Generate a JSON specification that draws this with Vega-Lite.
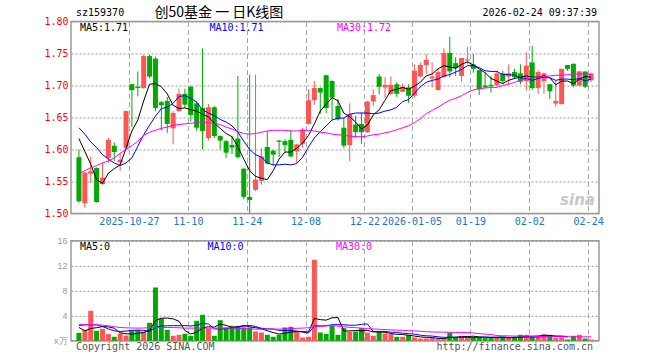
{
  "$schema": "https://vega.github.io/schema/vega-lite/v6.json",
  "background": "#ffffff",
  "padding": {"left": 0, "top": 5.5, "right": 0, "bottom": 0},
  "bounds": "flush",
  "spacing": 27.3,
  "config": {
    "view": {"stroke": "#999999", "strokeWidth": 1.5},
    "axis": {"labelFont": "DejaVu Sans Mono", "labelFontSize": 10, "ticks": false, "domain": false, "title": null, "gridColor": "#aaaaaa", "gridWidth": 1, "labelOverlap": false, "tickCount": 20},
    "line": {"strokeWidth": 1}
  },
  "data": {"values": [
    {"i":0,"o":1.588,"h":1.600,"l":1.517,"c":1.519,"v":1.28,"m5":1.617,"m10":1.634,"m30":1.562,"vm5":2.13,"vm10":2.45,"vm30":2.65},
    {"i":1,"o":1.516,"h":1.565,"l":1.509,"c":1.564,"v":1.76,"m5":1.597,"m10":1.624,"m30":1.567,"vm5":1.6,"vm10":2.55,"vm30":2.62},
    {"i":2,"o":1.562,"h":1.589,"l":1.548,"c":1.566,"v":4.8,"m5":1.577,"m10":1.612,"m30":1.571,"vm5":1.97,"vm10":2.56,"vm30":2.6},
    {"i":3,"o":1.571,"h":1.572,"l":1.517,"c":1.518,"v":1.6,"m5":1.553,"m10":1.603,"m30":1.575,"vm5":2.1,"vm10":2.56,"vm30":2.56},
    {"i":4,"o":1.546,"h":1.579,"l":1.545,"c":1.556,"v":1.92,"m5":1.547,"m10":1.592,"m30":1.579,"vm5":2.27,"vm10":2.3,"vm30":2.5},
    {"i":5,"o":1.587,"h":1.618,"l":1.579,"c":1.615,"v":1.07,"m5":1.563,"m10":1.585,"m30":1.582,"vm5":2.23,"vm10":1.9,"vm30":2.4},
    {"i":6,"o":1.606,"h":1.611,"l":1.582,"c":1.596,"v":0.64,"m5":1.570,"m10":1.579,"m30":1.587,"vm5":2.01,"vm10":1.6,"vm30":2.25},
    {"i":7,"o":1.580,"h":1.595,"l":1.567,"c":1.584,"v":1.17,"m5":1.576,"m10":1.575,"m30":1.594,"vm5":1.28,"vm10":1.5,"vm30":2.13},
    {"i":8,"o":1.603,"h":1.661,"l":1.601,"c":1.660,"v":0.85,"m5":1.602,"m10":1.579,"m30":1.600,"vm5":1.13,"vm10":1.55,"vm30":2.08},
    {"i":9,"o":1.702,"h":1.703,"l":1.635,"c":1.693,"v":1.6,"m5":1.629,"m10":1.587,"m30":1.606,"vm5":1.07,"vm10":1.67,"vm30":2.05},
    {"i":10,"o":1.698,"h":1.722,"l":1.683,"c":1.696,"v":1.7,"m5":1.646,"m10":1.605,"m30":1.613,"vm5":1.19,"vm10":1.71,"vm30":2.03},
    {"i":11,"o":1.696,"h":1.748,"l":1.695,"c":1.746,"v":1.44,"m5":1.676,"m10":1.623,"m30":1.622,"vm5":1.35,"vm10":1.68,"vm30":2.05},
    {"i":12,"o":1.746,"h":1.748,"l":1.711,"c":1.714,"v":2.88,"m5":1.702,"m10":1.638,"m30":1.627,"vm5":1.69,"vm10":1.49,"vm30":2.1},
    {"i":13,"o":1.742,"h":1.745,"l":1.660,"c":1.665,"v":8.53,"m5":1.703,"m10":1.652,"m30":1.630,"vm5":3.23,"vm10":2.18,"vm30":2.13},
    {"i":14,"o":1.674,"h":1.676,"l":1.630,"c":1.669,"v":3.57,"m5":1.698,"m10":1.664,"m30":1.633,"vm5":3.62,"vm10":2.35,"vm30":2.13},
    {"i":15,"o":1.676,"h":1.682,"l":1.626,"c":1.640,"v":1.76,"m5":1.687,"m10":1.666,"m30":1.635,"vm5":3.64,"vm10":2.41,"vm30":2.13},
    {"i":16,"o":1.633,"h":1.660,"l":1.608,"c":1.657,"v":0.8,"m5":1.669,"m10":1.672,"m30":1.638,"vm5":3.51,"vm10":2.43,"vm30":2.13},
    {"i":17,"o":1.660,"h":1.695,"l":1.659,"c":1.687,"v":0.96,"m5":1.664,"m10":1.683,"m30":1.639,"vm5":3.12,"vm10":2.41,"vm30":2.08},
    {"i":18,"o":1.687,"h":1.695,"l":1.665,"c":1.670,"v":1.12,"m5":1.665,"m10":1.684,"m30":1.640,"vm5":1.64,"vm10":2.44,"vm30":2.03},
    {"i":19,"o":1.698,"h":1.700,"l":1.644,"c":1.654,"v":0.8,"m5":1.662,"m10":1.680,"m30":1.641,"vm5":1.09,"vm10":2.36,"vm30":2.03},
    {"i":20,"o":1.672,"h":1.676,"l":1.629,"c":1.634,"v":3.2,"m5":1.660,"m10":1.674,"m30":1.642,"vm5":1.38,"vm10":2.51,"vm30":2.03},
    {"i":21,"o":1.665,"h":1.758,"l":1.600,"c":1.629,"v":4.16,"m5":1.655,"m10":1.662,"m30":1.643,"vm5":2.05,"vm10":2.78,"vm30":2.03},
    {"i":22,"o":1.618,"h":1.671,"l":1.614,"c":1.666,"v":1.97,"m5":1.651,"m10":1.657,"m30":1.642,"vm5":2.25,"vm10":2.69,"vm30":2.03},
    {"i":23,"o":1.666,"h":1.668,"l":1.618,"c":1.621,"v":0.8,"m5":1.641,"m10":1.653,"m30":1.641,"vm5":2.19,"vm10":1.91,"vm30":2.03},
    {"i":24,"o":1.621,"h":1.622,"l":1.600,"c":1.614,"v":3.3,"m5":1.633,"m10":1.647,"m30":1.639,"vm5":2.69,"vm10":1.89,"vm30":2.03},
    {"i":25,"o":1.613,"h":1.615,"l":1.587,"c":1.595,"v":2.13,"m5":1.625,"m10":1.643,"m30":1.635,"vm5":2.47,"vm10":1.92,"vm30":2.03},
    {"i":26,"o":1.607,"h":1.621,"l":1.593,"c":1.603,"v":2.4,"m5":1.620,"m10":1.637,"m30":1.632,"vm5":2.12,"vm10":2.08,"vm30":2.03},
    {"i":27,"o":1.617,"h":1.715,"l":1.586,"c":1.588,"v":2.4,"m5":1.604,"m10":1.627,"m30":1.628,"vm5":2.21,"vm10":2.23,"vm30":2.0},
    {"i":28,"o":1.570,"h":1.571,"l":1.522,"c":1.526,"v":2.13,"m5":1.585,"m10":1.613,"m30":1.625,"vm5":2.47,"vm10":2.33,"vm30":1.95},
    {"i":29,"o":1.526,"h":1.717,"l":1.501,"c":1.521,"v":2.13,"m5":1.567,"m10":1.600,"m30":1.624,"vm5":2.24,"vm10":2.46,"vm30":1.9},
    {"i":30,"o":1.537,"h":1.717,"l":1.535,"c":1.553,"v":1.49,"m5":1.558,"m10":1.592,"m30":1.625,"vm5":2.11,"vm10":2.29,"vm30":1.87},
    {"i":31,"o":1.551,"h":1.602,"l":1.545,"c":1.589,"v":1.33,"m5":1.555,"m10":1.588,"m30":1.627,"vm5":1.9,"vm10":2.01,"vm30":1.87},
    {"i":32,"o":1.604,"h":1.629,"l":1.577,"c":1.578,"v":0.96,"m5":1.553,"m10":1.579,"m30":1.629,"vm5":1.61,"vm10":1.91,"vm30":1.87},
    {"i":33,"o":1.598,"h":1.600,"l":1.575,"c":1.592,"v":0.64,"m5":1.567,"m10":1.576,"m30":1.630,"vm5":1.31,"vm10":1.89,"vm30":1.87},
    {"i":34,"o":1.614,"h":1.615,"l":1.588,"c":1.612,"v":0.96,"m5":1.585,"m10":1.576,"m30":1.630,"vm5":1.08,"vm10":1.66,"vm30":1.87},
    {"i":35,"o":1.613,"h":1.616,"l":1.595,"c":1.607,"v":2.13,"m5":1.596,"m10":1.577,"m30":1.630,"vm5":1.2,"vm10":1.66,"vm30":1.9},
    {"i":36,"o":1.615,"h":1.630,"l":1.589,"c":1.589,"v":2.24,"m5":1.596,"m10":1.576,"m30":1.629,"vm5":1.39,"vm10":1.64,"vm30":1.95},
    {"i":37,"o":1.597,"h":1.609,"l":1.579,"c":1.608,"v":1.49,"m5":1.602,"m10":1.578,"m30":1.629,"vm5":1.49,"vm10":1.55,"vm30":2.0},
    {"i":38,"o":1.609,"h":1.634,"l":1.603,"c":1.631,"v":0.53,"m5":1.610,"m10":1.588,"m30":1.630,"vm5":1.47,"vm10":1.39,"vm30":2.03},
    {"i":39,"o":1.640,"h":1.694,"l":1.639,"c":1.677,"v":0.64,"m5":1.622,"m10":1.604,"m30":1.630,"vm5":1.41,"vm10":1.24,"vm30":2.1},
    {"i":40,"o":1.677,"h":1.707,"l":1.670,"c":1.696,"v":12.96,"m5":1.640,"m10":1.618,"m30":1.629,"vm5":3.57,"vm10":2.39,"vm30":2.2},
    {"i":41,"o":1.696,"h":1.697,"l":1.656,"c":1.689,"v":1.33,"m5":1.660,"m10":1.628,"m30":1.627,"vm5":3.39,"vm10":2.39,"vm30":2.3},
    {"i":42,"o":1.716,"h":1.717,"l":1.657,"c":1.665,"v":1.07,"m5":1.671,"m10":1.637,"m30":1.626,"vm5":3.31,"vm10":2.4,"vm30":2.4},
    {"i":43,"o":1.707,"h":1.708,"l":1.645,"c":1.681,"v":2.4,"m5":1.681,"m10":1.646,"m30":1.624,"vm5":3.68,"vm10":2.58,"vm30":2.4},
    {"i":44,"o":1.668,"h":1.679,"l":1.645,"c":1.647,"v":0.96,"m5":1.676,"m10":1.649,"m30":1.623,"vm5":3.74,"vm10":2.58,"vm30":2.35},
    {"i":45,"o":1.634,"h":1.649,"l":1.602,"c":1.606,"v":2.03,"m5":1.657,"m10":1.649,"m30":1.622,"vm5":1.56,"vm10":2.57,"vm30":2.25},
    {"i":46,"o":1.607,"h":1.672,"l":1.582,"c":1.655,"v":1.44,"m5":1.651,"m10":1.655,"m30":1.621,"vm5":1.58,"vm10":2.49,"vm30":2.15},
    {"i":47,"o":1.639,"h":1.653,"l":1.619,"c":1.627,"v":1.49,"m5":1.643,"m10":1.657,"m30":1.620,"vm5":1.66,"vm10":2.49,"vm30":2.1},
    {"i":48,"o":1.640,"h":1.658,"l":1.609,"c":1.627,"v":2.03,"m5":1.632,"m10":1.657,"m30":1.620,"vm5":1.59,"vm10":2.64,"vm30":2.03},
    {"i":49,"o":1.627,"h":1.676,"l":1.626,"c":1.675,"v":1.33,"m5":1.638,"m10":1.657,"m30":1.621,"vm5":1.66,"vm10":2.7,"vm30":1.95},
    {"i":50,"o":1.675,"h":1.694,"l":1.668,"c":1.685,"v":0.8,"m5":1.654,"m10":1.656,"m30":1.623,"vm5":1.42,"vm10":1.49,"vm30":1.9},
    {"i":51,"o":1.714,"h":1.718,"l":1.686,"c":1.698,"v":1.49,"m5":1.662,"m10":1.657,"m30":1.624,"vm5":1.43,"vm10":1.5,"vm30":1.85},
    {"i":52,"o":1.697,"h":1.713,"l":1.681,"c":1.701,"v":1.17,"m5":1.677,"m10":1.660,"m30":1.626,"vm5":1.36,"vm10":1.51,"vm30":1.8},
    {"i":53,"o":1.687,"h":1.714,"l":1.685,"c":1.701,"v":1.07,"m5":1.692,"m10":1.662,"m30":1.628,"vm5":1.17,"vm10":1.38,"vm30":1.75},
    {"i":54,"o":1.702,"h":1.705,"l":1.682,"c":1.687,"v":0.64,"m5":1.694,"m10":1.666,"m30":1.631,"vm5":1.03,"vm10":1.35,"vm30":1.7},
    {"i":55,"o":1.690,"h":1.703,"l":1.690,"c":1.698,"v":0.64,"m5":1.697,"m10":1.675,"m30":1.634,"vm5":1.0,"vm10":1.21,"vm30":1.68},
    {"i":56,"o":1.697,"h":1.702,"l":1.673,"c":1.684,"v":0.91,"m5":1.694,"m10":1.678,"m30":1.637,"vm5":0.89,"vm10":1.16,"vm30":1.62},
    {"i":57,"o":1.684,"h":1.733,"l":1.681,"c":1.723,"v":0.53,"m5":1.699,"m10":1.688,"m30":1.642,"vm5":0.76,"vm10":1.06,"vm30":1.58},
    {"i":58,"o":1.714,"h":1.736,"l":1.713,"c":1.732,"v":0.37,"m5":1.705,"m10":1.698,"m30":1.648,"vm5":0.62,"vm10":0.9,"vm30":1.53},
    {"i":59,"o":1.732,"h":1.749,"l":1.718,"c":1.740,"v":0.37,"m5":1.715,"m10":1.705,"m30":1.656,"vm5":0.56,"vm10":0.8,"vm30":1.45},
    {"i":60,"o":1.711,"h":1.736,"l":1.697,"c":1.714,"v":0.43,"m5":1.718,"m10":1.708,"m30":1.661,"vm5":0.52,"vm10":0.76,"vm30":1.42},
    {"i":61,"o":1.693,"h":1.726,"l":1.692,"c":1.721,"v":0.27,"m5":1.726,"m10":1.710,"m30":1.666,"vm5":0.39,"vm10":0.64,"vm30":1.4},
    {"i":62,"o":1.713,"h":1.758,"l":1.712,"c":1.751,"v":0.27,"m5":1.731,"m10":1.715,"m30":1.672,"vm5":0.34,"vm10":0.55,"vm30":1.38},
    {"i":63,"o":1.751,"h":1.776,"l":1.713,"c":1.722,"v":1.33,"m5":1.729,"m10":1.717,"m30":1.677,"vm5":0.53,"vm10":0.58,"vm30":1.36},
    {"i":64,"o":1.735,"h":1.744,"l":1.715,"c":1.727,"v":0.53,"m5":1.727,"m10":1.721,"m30":1.680,"vm5":0.57,"vm10":0.57,"vm30":1.34},
    {"i":65,"o":1.715,"h":1.743,"l":1.706,"c":1.743,"v":0.8,"m5":1.733,"m10":1.725,"m30":1.684,"vm5":0.64,"vm10":0.58,"vm30":1.33},
    {"i":66,"o":1.739,"h":1.760,"l":1.733,"c":1.741,"v":0.53,"m5":1.737,"m10":1.731,"m30":1.689,"vm5":0.69,"vm10":0.54,"vm30":1.33},
    {"i":67,"o":1.733,"h":1.749,"l":1.720,"c":1.726,"v":0.53,"m5":1.732,"m10":1.731,"m30":1.693,"vm5":0.74,"vm10":0.54,"vm30":1.25},
    {"i":68,"o":1.724,"h":1.724,"l":1.685,"c":1.694,"v":0.64,"m5":1.726,"m10":1.728,"m30":1.695,"vm5":0.61,"vm10":0.57,"vm30":1.15},
    {"i":69,"o":1.700,"h":1.720,"l":1.696,"c":1.697,"v":0.43,"m5":1.720,"m10":1.723,"m30":1.696,"vm5":0.59,"vm10":0.58,"vm30":1.07},
    {"i":70,"o":1.701,"h":1.715,"l":1.689,"c":1.699,"v":0.43,"m5":1.711,"m10":1.722,"m30":1.697,"vm5":0.51,"vm10":0.58,"vm30":1.0},
    {"i":71,"o":1.700,"h":1.723,"l":1.699,"c":1.719,"v":0.53,"m5":1.707,"m10":1.722,"m30":1.697,"vm5":0.51,"vm10":0.6,"vm30":0.85},
    {"i":72,"o":1.719,"h":1.723,"l":1.702,"c":1.707,"v":0.53,"m5":1.703,"m10":1.717,"m30":1.700,"vm5":0.51,"vm10":0.63,"vm30":0.8},
    {"i":73,"o":1.714,"h":1.733,"l":1.702,"c":1.719,"v":0.43,"m5":1.708,"m10":1.717,"m30":1.702,"vm5":0.47,"vm10":0.54,"vm30":0.78},
    {"i":74,"o":1.721,"h":1.726,"l":1.710,"c":1.713,"v":0.64,"m5":1.711,"m10":1.716,"m30":1.705,"vm5":0.51,"vm10":0.55,"vm30":0.76},
    {"i":75,"o":1.719,"h":1.733,"l":1.702,"c":1.706,"v":0.96,"m5":1.713,"m10":1.712,"m30":1.708,"vm5":0.62,"vm10":0.57,"vm30":0.75},
    {"i":76,"o":1.707,"h":1.752,"l":1.692,"c":1.731,"v":0.96,"m5":1.715,"m10":1.711,"m30":1.710,"vm5":0.7,"vm10":0.61,"vm30":0.75},
    {"i":77,"o":1.736,"h":1.762,"l":1.693,"c":1.696,"v":0.64,"m5":1.713,"m10":1.708,"m30":1.712,"vm5":0.73,"vm10":0.62,"vm30":0.72},
    {"i":78,"o":1.696,"h":1.724,"l":1.687,"c":1.721,"v":0.64,"m5":1.713,"m10":1.711,"m30":1.713,"vm5":0.77,"vm10":0.62,"vm30":0.7},
    {"i":79,"o":1.707,"h":1.720,"l":1.687,"c":1.719,"v":1.07,"m5":1.715,"m10":1.713,"m30":1.714,"vm5":0.85,"vm10":0.68,"vm30":0.68},
    {"i":80,"o":1.702,"h":1.702,"l":1.679,"c":1.691,"v":0.96,"m5":1.712,"m10":1.712,"m30":1.715,"vm5":0.85,"vm10":0.74,"vm30":0.66},
    {"i":81,"o":1.672,"h":1.707,"l":1.667,"c":1.676,"v":0.43,"m5":1.701,"m10":1.708,"m30":1.716,"vm5":0.75,"vm10":0.73,"vm30":0.64},
    {"i":82,"o":1.671,"h":1.726,"l":1.670,"c":1.726,"v":0.53,"m5":1.707,"m10":1.710,"m30":1.716,"vm5":0.73,"vm10":0.73,"vm30":0.64},
    {"i":83,"o":1.732,"h":1.732,"l":1.723,"c":1.726,"v":0.21,"m5":1.707,"m10":1.710,"m30":1.717,"vm5":0.64,"vm10":0.7,"vm30":0.64},
    {"i":84,"o":1.734,"h":1.734,"l":1.697,"c":1.700,"v":0.8,"m5":1.703,"m10":1.709,"m30":1.718,"vm5":null,"vm10":null,"vm30":0.64},
    {"i":85,"o":1.700,"h":1.723,"l":1.699,"c":1.722,"v":0.96,"m5":1.710,"m10":1.711,"m30":1.718,"vm5":null,"vm10":null,"vm30":0.64},
    {"i":86,"o":1.722,"h":1.722,"l":1.696,"c":1.698,"v":0.37,"m5":1.714,"m10":1.707,"m30":1.718,"vm5":null,"vm10":null,"vm30":0.64},
    {"i":87,"o":1.708,"h":1.720,"l":1.705,"c":1.719,"v":0.21,"m5":1.713,"m10":1.710,"m30":1.717,"vm5":null,"vm10":null,"vm30":0.64}
  ]},
  "vconcat": [
    {
      "width": 528,
      "height": 192,
      "layer": [
        {
          "mark": {"type": "rule", "strokeWidth": 1},
          "encoding": {
            "x": {
              "field": "i", "type": "quantitative",
              "scale": {"domain": [-0.5, 87.5], "nice": false, "zero": false},
              "axis": {
                "values": [8.5, 18.5, 28.5, 38.5, 48.5, 56.5, 66.5, 76.5, 86.5],
                "labelExpr": "datum.value<10?'2025-10-27':datum.value<20?'11-10':datum.value<30?'11-24':datum.value<40?'12-08':datum.value<50?'12-22':datum.value<60?'2026-01-05':datum.value<70?'01-19':datum.value<80?'02-02':'02-24'",
                "labelColor": "#1874cd", "labelPadding": 3, "labelFlush": false, "labelBound": false, "tickCount": 20,
                "grid": true, "gridDash": [5, 3]
              }
            },
            "y": {
              "field": "l", "type": "quantitative",
              "scale": {"domain": [1.5, 1.8], "nice": false, "zero": false},
              "axis": {"values": [1.5, 1.55, 1.6, 1.65, 1.7, 1.75, 1.8], "tickCount": 20, "format": ".2f", "labelColor": "#ff0000", "labelPadding": 3, "labelOverlap": false, "minExtent": 70, "maxExtent": 70, "grid": true, "gridDash": [2, 2], "gridColor": "#999999"}
            },
            "y2": {"field": "h"},
            "color": {"condition": {"test": "datum.c >= datum.o", "value": "#ff5555"}, "value": "#00aa00"}
          }
        },
        {
          "mark": {"type": "bar", "width": 5},
          "encoding": {
            "x": {"field": "i", "type": "quantitative"},
            "y": {"field": "o", "type": "quantitative"},
            "y2": {"field": "c"},
            "color": {"condition": {"test": "datum.c >= datum.o", "value": "#ff5555"}, "value": "#00aa00"}
          }
        },
        {"mark": {"type": "line", "color": "#000000", "strokeWidth": 1}, "encoding": {"x": {"field": "i", "type": "quantitative"}, "y": {"field": "m5", "type": "quantitative"}}},
        {"mark": {"type": "line", "color": "#0000ff", "strokeWidth": 1}, "encoding": {"x": {"field": "i", "type": "quantitative"}, "y": {"field": "m10", "type": "quantitative"}}},
        {"mark": {"type": "line", "color": "#ff00ff", "strokeWidth": 1}, "encoding": {"x": {"field": "i", "type": "quantitative"}, "y": {"field": "m30", "type": "quantitative"}}},
        {
          "transform": [{"filter": "datum.i == 0"}],
          "mark": {"type": "text", "text": "MA5:1.71", "align": "left", "baseline": "middle", "fill": "#000000", "font": "DejaVu Sans Mono", "fontSize": 10},
          "encoding": {"x": {"datum": 0.17, "type": "quantitative"}, "y": {"datum": 1.7906, "type": "quantitative"}}
        },
        {
          "transform": [{"filter": "datum.i == 0"}],
          "mark": {"type": "text", "text": "MA10:1.71", "align": "left", "baseline": "middle", "fill": "#0000ff", "font": "DejaVu Sans Mono", "fontSize": 10},
          "encoding": {"x": {"datum": 22.17, "type": "quantitative"}, "y": {"datum": 1.7906, "type": "quantitative"}}
        },
        {
          "transform": [{"filter": "datum.i == 0"}],
          "mark": {"type": "text", "text": "MA30:1.72", "align": "left", "baseline": "middle", "fill": "#ff00ff", "font": "DejaVu Sans Mono", "fontSize": 10},
          "encoding": {"x": {"datum": 43.83, "type": "quantitative"}, "y": {"datum": 1.7906, "type": "quantitative"}}
        },
        {
          "transform": [{"filter": "datum.i == 0"}],
          "mark": {"type": "text", "text": "sz159370", "align": "left", "baseline": "middle", "fill": "#000000", "font": "DejaVu Sans Mono", "fontSize": 10},
          "encoding": {"x": {"datum": -0.5, "type": "quantitative"}, "y": {"datum": 1.8128, "type": "quantitative"}}
        },
        {
          "transform": [{"filter": "datum.i == 0"}],
          "mark": {"type": "text", "text": "创50基金 一 日K线图", "align": "left", "baseline": "middle", "fill": "#000000", "font": "Noto Sans CJK SC", "fontSize": 14},
          "encoding": {"x": {"datum": 12.83, "type": "quantitative"}, "y": {"datum": 1.8128, "type": "quantitative"}}
        },
        {
          "transform": [{"filter": "datum.i == 0"}],
          "mark": {"type": "text", "text": "2026-02-24 09:37:39", "align": "right", "baseline": "middle", "fill": "#000000", "font": "DejaVu Sans Mono", "fontSize": 10},
          "encoding": {"x": {"datum": 88.0, "type": "quantitative"}, "y": {"datum": 1.8128, "type": "quantitative"}}
        },
        {
          "transform": [{"filter": "datum.i == 0"}],
          "mark": {"type": "text", "text": "sina", "align": "center", "baseline": "middle", "fill": "#c8c8c8", "font": "DejaVu Sans", "fontSize": 15, "fontStyle": "italic", "fontWeight": "bold"},
          "encoding": {"x": {"datum": 84.7, "type": "quantitative"}, "y": {"datum": 1.521, "type": "quantitative"}}
        }
      ]
    },
    {
      "width": 528,
      "height": 100,
      "layer": [
        {
          "mark": {"type": "bar", "width": 5},
          "encoding": {
            "x": {
              "field": "i", "type": "quantitative",
              "scale": {"domain": [-0.5, 87.5], "nice": false, "zero": false},
              "axis": {"values": [8.5, 18.5, 28.5, 38.5, 48.5, 56.5, 66.5, 76.5, 86.5], "tickCount": 20, "labels": false, "grid": true, "gridDash": [5, 3]}
            },
            "y": {
              "field": "v", "type": "quantitative",
              "scale": {"domain": [0, 16], "nice": false},
              "axis": {"values": [0, 4, 8, 12, 16], "tickCount": 20, "labelExpr": "datum.value == 0 ? 'x万' : datum.label", "labelColor": "#999999", "labelFont": "Liberation Sans", "labelFontSize": 9, "labelPadding": 4, "labelOverlap": false, "minExtent": 70, "maxExtent": 70, "grid": true, "gridDash": [2, 2], "gridColor": "#999999"}
            },
            "color": {"condition": {"test": "datum.c >= datum.o", "value": "#ff5555"}, "value": "#00aa00"}
          }
        },
        {"mark": {"type": "line", "color": "#000000", "strokeWidth": 1}, "encoding": {"x": {"field": "i", "type": "quantitative"}, "y": {"field": "vm5", "type": "quantitative"}}},
        {"mark": {"type": "line", "color": "#0000ff", "strokeWidth": 1}, "encoding": {"x": {"field": "i", "type": "quantitative"}, "y": {"field": "vm10", "type": "quantitative"}}},
        {"mark": {"type": "line", "color": "#ff00ff", "strokeWidth": 1}, "encoding": {"x": {"field": "i", "type": "quantitative"}, "y": {"field": "vm30", "type": "quantitative"}}},
        {
          "transform": [{"filter": "datum.i == 0"}],
          "mark": {"type": "text", "text": "MA5:0", "align": "left", "baseline": "middle", "fill": "#000000", "font": "DejaVu Sans Mono", "fontSize": 10},
          "encoding": {"x": {"datum": 0.17, "type": "quantitative"}, "y": {"datum": 15.04, "type": "quantitative"}}
        },
        {
          "transform": [{"filter": "datum.i == 0"}],
          "mark": {"type": "text", "text": "MA10:0", "align": "left", "baseline": "middle", "fill": "#0000ff", "font": "DejaVu Sans Mono", "fontSize": 10},
          "encoding": {"x": {"datum": 21.83, "type": "quantitative"}, "y": {"datum": 15.04, "type": "quantitative"}}
        },
        {
          "transform": [{"filter": "datum.i == 0"}],
          "mark": {"type": "text", "text": "MA30:0", "align": "left", "baseline": "middle", "fill": "#ff00ff", "font": "DejaVu Sans Mono", "fontSize": 10},
          "encoding": {"x": {"datum": 43.67, "type": "quantitative"}, "y": {"datum": 15.04, "type": "quantitative"}}
        },
        {
          "transform": [{"filter": "datum.i == 0"}],
          "mark": {"type": "text", "text": "Copyright 2026 SINA.COM", "align": "left", "baseline": "middle", "fill": "#555555", "font": "DejaVu Sans Mono", "fontSize": 10},
          "encoding": {"x": {"datum": -0.5, "type": "quantitative"}, "y": {"datum": -0.96, "type": "quantitative"}}
        },
        {
          "transform": [{"filter": "datum.i == 0"}],
          "mark": {"type": "text", "text": "http://finance.sina.com.cn", "align": "right", "baseline": "middle", "fill": "#555555", "font": "DejaVu Sans Mono", "fontSize": 10},
          "encoding": {"x": {"datum": 87.33, "type": "quantitative"}, "y": {"datum": -0.96, "type": "quantitative"}}
        }
      ]
    }
  ]
}
